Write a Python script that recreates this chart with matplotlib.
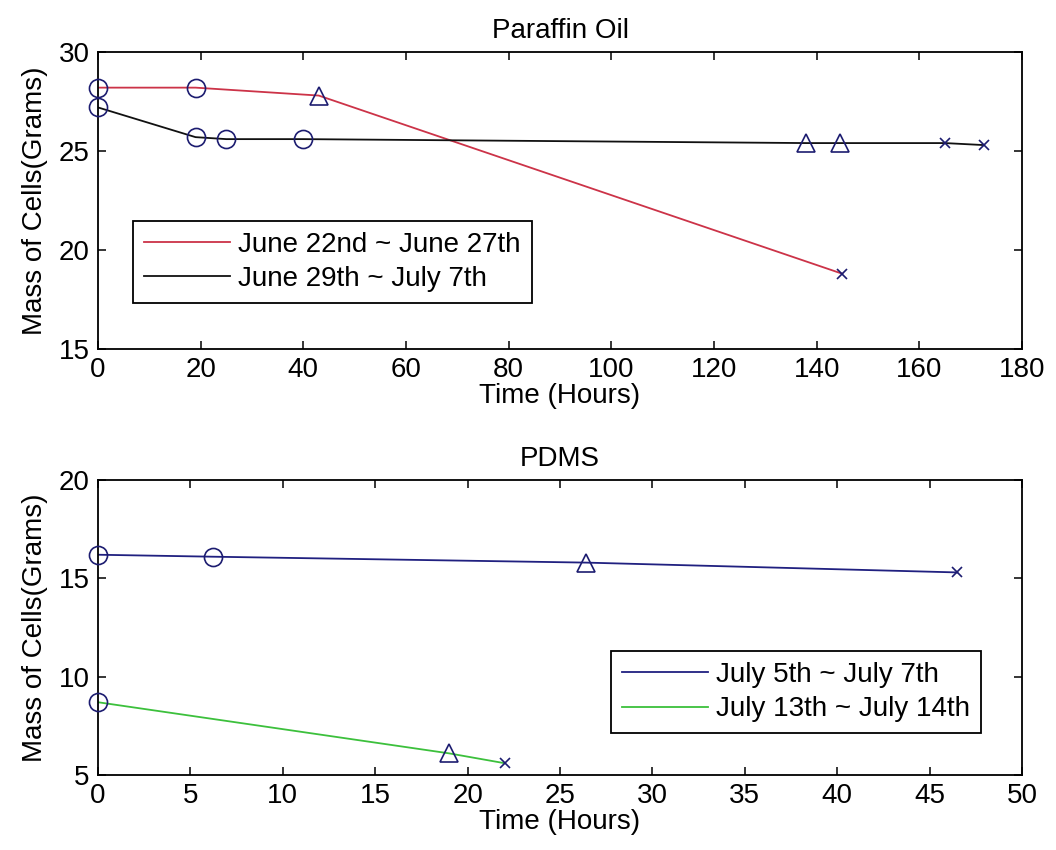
import matplotlib
matplotlib.use("Agg")
import matplotlib.pyplot as plt
from matplotlib.font_manager import fontManager

names = {f.name for f in fontManager.ttflist}
fam = [f for f in ["Liberation Sans Narrow", "Liberation Sans", "DejaVu Sans"] if f in names]
plt.rcParams['font.family'] = fam

# ---- data ----
# Paraffin Oil
po1_label = "June 22nd ~ June 27th"
po1_t = [0, 19, 43, 145]
po1_m = [28.2, 28.2, 27.8, 18.8]
po1_circ_t, po1_circ_m = [0, 19], [28.2, 28.2]
po1_tri_t, po1_tri_m = [43], [27.8]
po1_x_t, po1_x_m = [145], [18.8]

po2_label = "June 29th ~ July 7th"
po2_t = [0, 19, 25, 40, 138, 144.5, 165, 172.5]
po2_m = [27.2, 25.7, 25.6, 25.6, 25.4, 25.4, 25.4, 25.3]
po2_circ_t, po2_circ_m = [0, 19, 25, 40], [27.2, 25.7, 25.6, 25.6]
po2_tri_t, po2_tri_m = [138, 144.5], [25.4, 25.4]
po2_x_t, po2_x_m = [165, 172.5], [25.4, 25.3]

# PDMS
pd1_label = "July 5th ~ July 7th"
pd1_t = [0, 6.2, 26.4, 46.5]
pd1_m = [16.2, 16.1, 15.8, 15.3]
pd1_circ_t, pd1_circ_m = [0, 6.2], [16.2, 16.1]
pd1_tri_t, pd1_tri_m = [26.4], [15.8]
pd1_x_t, pd1_x_m = [46.5], [15.3]

pd2_label = "July 13th ~ July 14th"
pd2_t = [0, 19, 22]
pd2_m = [8.7, 6.1, 5.6]
pd2_circ_t, pd2_circ_m = [0], [8.7]
pd2_tri_t, pd2_tri_m = [19], [6.1]
pd2_x_t, pd2_x_m = [22], [5.6]

top_xticks = list(range(0, 181, 20))
top_yticks = [15, 20, 25, 30]
bot_xticks = list(range(0, 51, 5))
bot_yticks = [5, 10, 15, 20]

# ---- style ----
MK = '#1c1c70'
FS = 20

fig = plt.figure(figsize=(10.56, 8.5), dpi=100)
fig.patch.set_facecolor('white')
L, R = 98 / 1056, 1022 / 1056
ax1 = fig.add_axes([L, 1 - 349 / 850, R - L, 297 / 850])
ax2 = fig.add_axes([L, 1 - 775 / 850, R - L, 295 / 850])


def markers(ax, ct, cm, tt, tm, xt, xm):
    ax.plot(ct, cm, linestyle='none', marker='o', markersize=13, mfc='none',
            mec=MK, mew=1.2, zorder=3, clip_on=False)
    ax.plot(tt, tm, linestyle='none', marker='^', markersize=13, mfc='none',
            mec=MK, mew=1.2, zorder=3, clip_on=False)
    ax.plot(xt, xm, linestyle='none', marker='x', markersize=7, mfc='none',
            mec=MK, mew=1.2, zorder=3, clip_on=False)


def style(ax, xt, yt, xlim, ylim, title):
    ax.set_xlim(*xlim)
    ax.set_ylim(*ylim)
    ax.set_xticks(xt)
    ax.set_yticks(yt)
    ax.tick_params(direction='in', length=5.5, width=1.1, top=True, right=True,
                   labelsize=FS, pad=6)
    for s in ax.spines.values():
        s.set_linewidth(1.3)
    ax.set_xlabel("Time (Hours)", fontsize=FS, labelpad=0)
    ax.set_ylabel("Mass of Cells(Grams)", fontsize=FS, labelpad=8)
    ax.set_title(title, fontsize=FS, pad=10)


def legend(ax, anchor):
    leg = ax.legend(loc='upper left', bbox_to_anchor=anchor, borderaxespad=0,
                    fontsize=FS, fancybox=False, edgecolor='black', framealpha=1,
                    handlelength=3.1, handletextpad=0.3, borderpad=0.4,
                    labelspacing=0.3)
    leg.get_frame().set_linewidth(1.3)
    return leg


ax1.plot(po1_t, po1_m, color='#cc3348', lw=1.3, label=po1_label, zorder=2)
ax1.plot(po2_t, po2_m, color='#111111', lw=1.3, label=po2_label, zorder=2)
markers(ax1, po1_circ_t, po1_circ_m, po1_tri_t, po1_tri_m, po1_x_t, po1_x_m)
markers(ax1, po2_circ_t, po2_circ_m, po2_tri_t, po2_tri_m, po2_x_t, po2_x_m)
style(ax1, top_xticks, top_yticks, (0, 180), (15, 30), "Paraffin Oil")
legend(ax1, (0.0376, 0.432))

ax2.plot(pd1_t, pd1_m, color='#202080', lw=1.3, label=pd1_label, zorder=2)
ax2.plot(pd2_t, pd2_m, color='#3cc03c', lw=1.3, label=pd2_label, zorder=2)
markers(ax2, pd1_circ_t, pd1_circ_m, pd1_tri_t, pd1_tri_m, pd1_x_t, pd1_x_m)
markers(ax2, pd2_circ_t, pd2_circ_m, pd2_tri_t, pd2_tri_m, pd2_x_t, pd2_x_m)
style(ax2, bot_xticks, bot_yticks, (0, 50), (5, 20), "PDMS")
legend(ax2, (0.555, 0.421))

fig.savefig("out.png", dpi=100, facecolor='white')
